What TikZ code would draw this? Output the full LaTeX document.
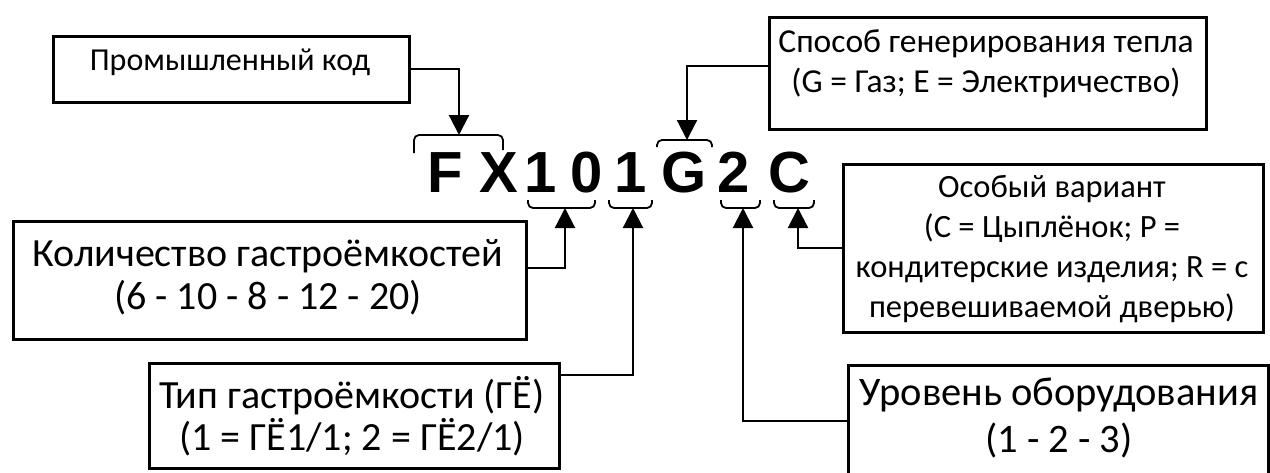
\documentclass[tikz,border=0pt]{standalone}
\usepackage{fontspec}
\setmainfont{Carlito}
\newfontfamily\codefont{Liberation Sans}
\usetikzlibrary{arrows.meta}
\begin{document}
\begin{tikzpicture}[x=1pt,y=-1pt,
  box/.style={draw, line width=2.6pt, inner sep=0pt, anchor=north west},
  txt/.style={inner sep=0pt, align=center},
  code/.style={inner sep=0pt, anchor=base, font=\codefont\bfseries\fontsize{58}{60}\selectfont},
  conn/.style={line width=2.2pt, -{Triangle[width=20pt,length=20pt]}},
  brace/.style={line width=1.8pt, rounded corners=5pt}]
\useasboundingbox (0,0) rectangle (1270,472);

% boxes
\node[box, minimum width=356pt, minimum height=66pt] (kod) at (52,35) {};
\node[box, minimum width=437pt, minimum height=112pt] (sposob) at (768,16) {};
\node[box, minimum width=420pt, minimum height=168pt] (osob) at (842,163) {};
\node[box, minimum width=420pt, minimum height=120pt] (uroven) at (847,364) {};
\node[box, minimum width=513pt, minimum height=118pt] (kolvo) at (12,220) {};
\node[box, minimum width=410pt, minimum height=105pt] (tip) at (148,362) {};

% texts
\node[txt, anchor=base, font=\fontsize{32}{38}\selectfont] (kodT) at (230,70) {Промышленный код};
\node[txt, font=\fontsize{33.5}{40}\selectfont] (sposobT) at (986,64) {Способ генерирования тепла\\(G = Газ; E = Электричество)};
\node[txt, font=\fontsize{32.5}{40}\selectfont] (osobT) at (1052,249) {Особый вариант\\(C = Цыплёнок; P =\\кондитерские изделия; R = с\\перевешиваемой дверью)};
\node[txt, font=\fontsize{40.5}{47}\selectfont] (urovenT) at (1059,418) {Уровень оборудования\\(1 - 2 - 3)};
\node[txt, font=\fontsize{40}{43}\selectfont] (kolvoT) at (268,277) {Количество гастроёмкостей\\(6 - 10 - 8 - 12 - 20)};
\node[txt, font=\fontsize{40}{42}\selectfont] (tipT) at (352,416) {Тип гастроёмкости (ГЁ)\\(1 = ГЁ1/1; 2 = ГЁ2/1)};

% code letters
\node[code] (cF) at (445,192) {F};
\node[code] (cX) at (499,192) {X};
\node[code] (c1a) at (541,192) {1};
\node[code] (c0) at (587,192) {0};
\node[code] (c1b) at (631,192) {1};
\node[code] (cG) at (684,192) {G};
\node[code] (c2) at (734,192) {2};
\node[code] (cC) at (789,192) {C};

% brackets
\draw[brace] (414,153) -- (414,135) -- (503,135) -- (503,150);
\draw[brace] (657,147) -- (657,140) -- (712,140) -- (712,147);
\draw[brace] (528,200) -- (528,208) -- (595,208) -- (595,200);
\draw[brace] (609,200) -- (609,208) -- (652,208) -- (652,200);
\draw[brace] (721,200) -- (721,208) -- (760,208) -- (760,200);
\draw[brace] (774,200) -- (774,208) -- (814,208) -- (814,200);

\coordinate (bFX) at (459,135);
\coordinate (bG) at (687,140);
\coordinate (b10) at (565,208);
\coordinate (b1) at (633,208);
\coordinate (b2) at (743,208);
\coordinate (bC) at (798,208);

% connectors
\draw[conn] (kod.east) -| (bFX);
\draw[conn] ([yshift=7pt]sposob.west) -| (bG);
\draw[conn] ([yshift=12pt]kolvo.east) -| (b10);
\draw[conn] ([yshift=41pt]tip.east) -| (b1);
\draw[conn] (osob.west) -| (bC);
\draw[conn] ([yshift=4pt]uroven.west) -| (b2);
\end{tikzpicture}
\end{document}
